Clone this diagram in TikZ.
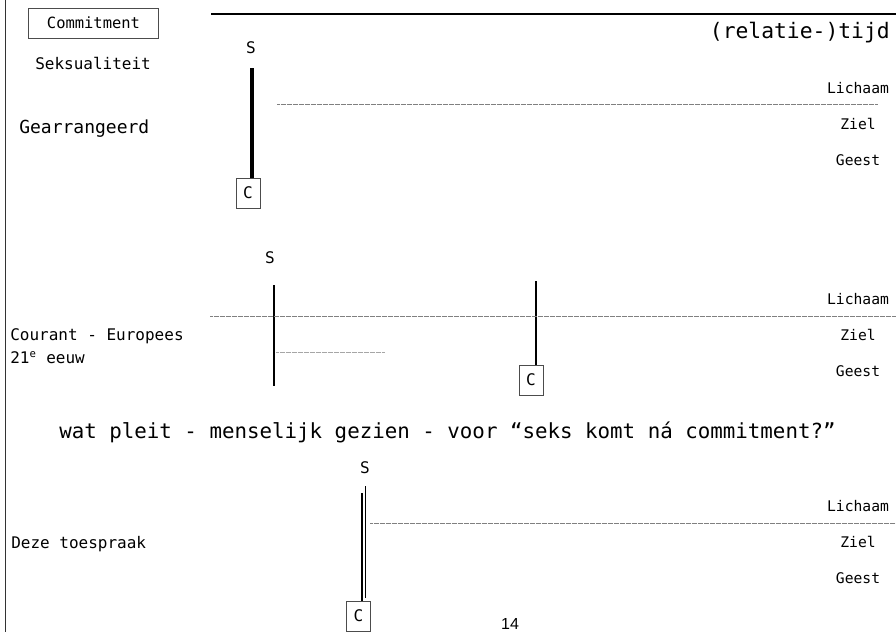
\documentclass[tikz,border=0pt]{standalone}
\usepackage{fontspec}
\setmainfont{DejaVu Sans Mono}
\newfontfamily\paginafont{Liberation Sans}
\usepackage{xcolor}

\tikzset{
  rij/.style={anchor=base west, inner sep=0pt, font=\fontsize{12}{14}\selectfont},
  laag/.style={anchor=base, inner sep=0pt, font=\fontsize{11}{13}\selectfont},
  slbl/.style={anchor=base, inner sep=0pt, font=\fontsize{12}{14}\selectfont},
  cbox/.style={draw=black!70, line width=0.6pt, minimum width=18pt, minimum height=22.5pt, inner sep=0pt, font=\fontsize{12}{14}\selectfont},
  grens/.style={draw=black!50, line width=0.6pt, dash pattern=on 0.5pt off 0.4pt},
}

\begin{document}
\begin{tikzpicture}[x=0.75pt,y=0.75pt,yscale=-1,xscale=1]
\useasboundingbox (0,0) rectangle (896,632);
% kader en tijdas
\draw [black!80, line width=0.6pt] (5,0) -- (5,632);
\draw [line width=1.3pt] (211,14) -- (896,14);
\node [anchor=base east, inner sep=0pt, font=\fontsize{16}{18}\selectfont] (tijd) at (890,38) {(relatie-)tijd};
\node [draw=black!70, line width=0.6pt, minimum width=97.5pt, minimum height=22.5pt, inner sep=0pt, font=\fontsize{11.6}{14}\selectfont] (commit) at (93.5,23) {Commitment};
\node [rij] (seks) at (35,69) {Seksualiteit};

% Gearrangeerd
\node [anchor=base west, inner sep=0pt, font=\fontsize{13.5}{16}\selectfont] (gearr) at (19,133) {Gearrangeerd};
\node [slbl] (s1) at (251,53) {S};
\coordinate (s1top) at (252,68);
\node [cbox] (c1) at (248,193) {C};
\draw [line width=2.3pt] (s1top) -- (s1top |- c1.north);
\draw [grens] (277,104) -- (878,104);
\node [laag] (lich1) at (858,93) {Lichaam};
\node [laag] (ziel1) at (858,129) {Ziel};
\node [laag] (geest1) at (858,165) {Geest};

% Courant - Europees
\node [rij] (cour) at (10,340) {Courant - Europees};
\node [rij] (eeuw) at (10,363) {21\textsuperscript{e} eeuw};
\node [slbl] (s2) at (270,263) {S};
\coordinate (s2top) at (274,285);
\coordinate (s2bot) at (274,386);
\draw [line width=1.1pt] (s2top) -- (s2bot);
\node [cbox] (c2) at (531,380) {C};
\coordinate (c2top) at (536,281);
\draw [line width=1.1pt] (c2top) -- (c2top |- c2.north);
\draw [grens] (210,316) -- (896,316);
\draw [grens, black!35] (276,352) -- (385,352);
\node [laag] (lich2) at (858,304) {Lichaam};
\node [laag] (ziel2) at (858,340) {Ziel};
\node [laag] (geest2) at (858,376) {Geest};

% vraag
\node [anchor=base west, inner sep=0pt, font=\fontsize{15.6}{18}\selectfont] (vraag) at (59,438) {wat pleit - menselijk gezien - voor “seks komt ná commitment?”};

% Deze toespraak
\node [rij] (deze) at (11,548) {Deze toespraak};
\node [slbl] (s3) at (365,473) {S};
\node [cbox] (c3) at (358.5,616) {C};
\coordinate (s3top) at (362,493);
\coordinate (s3dun) at (365,486);
\draw [line width=1.8pt] (s3top) -- (s3top |- c3.north);
\draw [line width=0.7pt] (s3dun) -- (365,598);
\draw [grens] (370,523) -- (896,523);
\node [laag] (lich3) at (858,511) {Lichaam};
\node [laag] (ziel3) at (858,547) {Ziel};
\node [laag] (geest3) at (858,583) {Geest};

\node [anchor=base, inner sep=0pt, font=\paginafont\fontsize{12}{14}\selectfont] (pagina) at (510,629) {14};
\end{tikzpicture}
\end{document}
